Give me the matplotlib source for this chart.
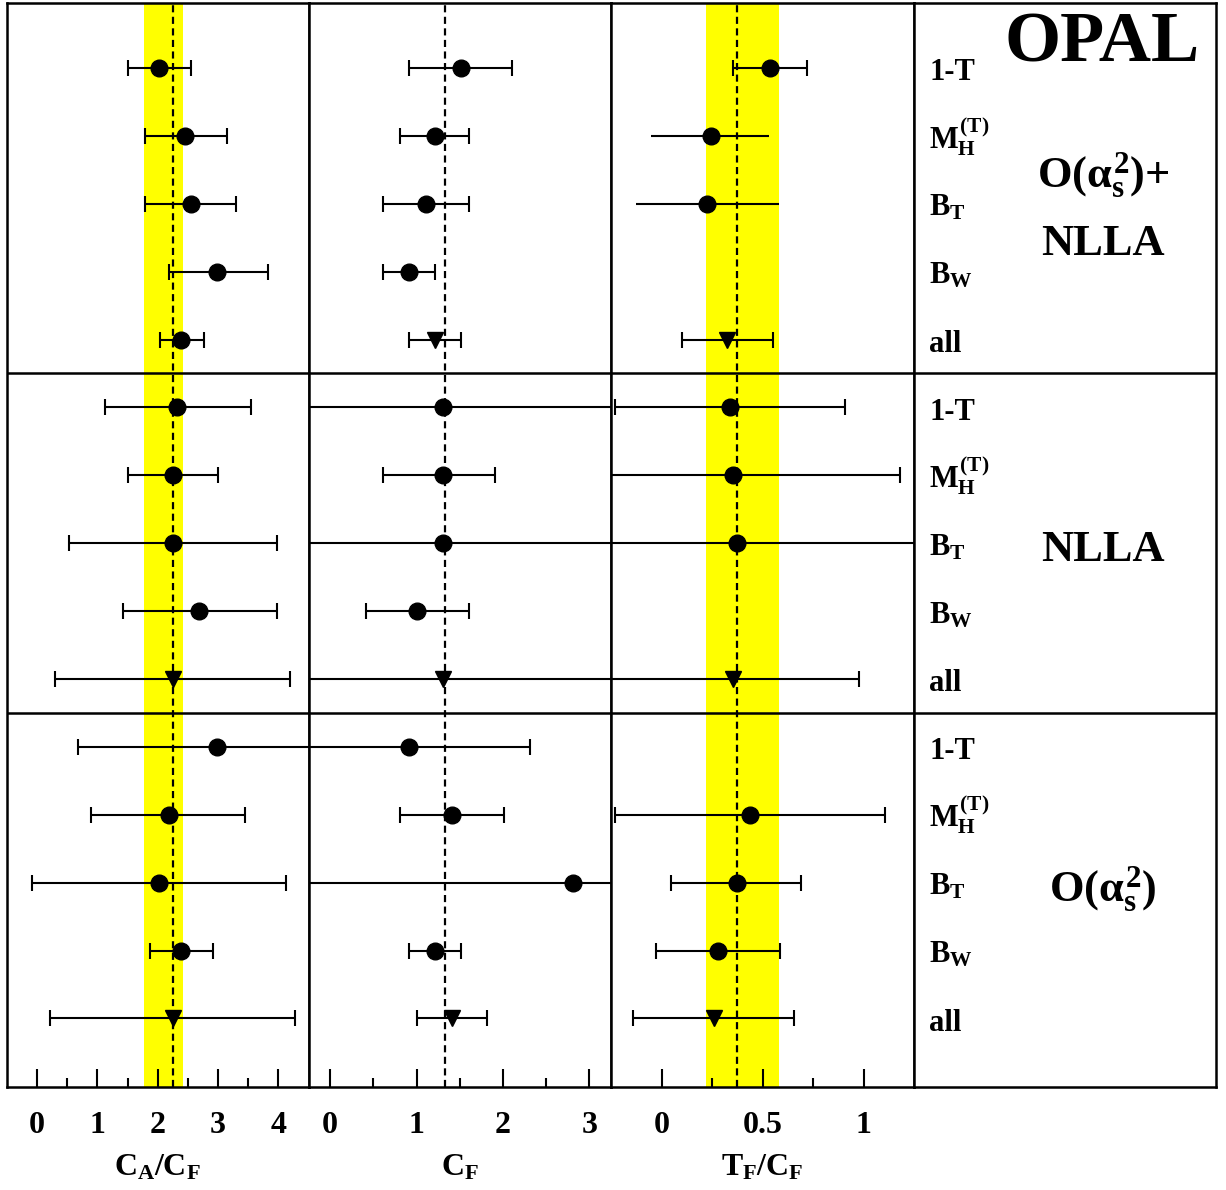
import numpy as np
import matplotlib.pyplot as plt

plt.rcParams["font.family"] = ["Liberation Serif", "DejaVu Serif"]
plt.rcParams["font.weight"] = "bold"
plt.rcParams["mathtext.fontset"] = "custom"
plt.rcParams["mathtext.rm"] = "Liberation Serif:bold"
plt.rcParams["mathtext.it"] = "Liberation Serif:bold"
plt.rcParams["mathtext.bf"] = "Liberation Serif:bold"

# observables (repeated for the 3 theory groups)
ROW_LABELS = ["1-T", r"$M_H^{(T)}$", r"$B_T$", r"$B_W$", "all"]
GROUP_LABELS = [r"O($\alpha_s^2$)+", "NLLA", "NLLA", r"O($\alpha_s^2$)"]
GROUP_Y = [1.76, 2.76, 7.26, 12.27]

# marker per row: o = single observable, v = combined
MARKERS = ["o", "o", "o", "o", "v"] * 3

# C_A/C_F
CA_VAL = [2.02, 2.46, 2.55, 2.99, 2.39, 2.32, 2.25, 2.25, 2.69, 2.25, 2.99, 2.18, 2.02, 2.39, 2.25]
CA_LO = [1.50, 1.79, 1.79, 2.18, 2.03, 1.12, 1.50, 0.52, 1.42, 0.29, 0.67, 0.89, -0.09, 1.87, 0.22]
CA_HI = [2.55, 3.15, 3.30, 3.83, 2.77, 3.54, 3.00, 3.98, 3.98, 4.20, 5.00, 3.45, 4.13, 2.92, 4.28]

# C_F
CF_VAL = [1.51, 1.21, 1.11, 0.91, 1.21, 1.31, 1.31, 1.31, 1.01, 1.31, 0.91, 1.41, 2.81, 1.21, 1.41]
CF_LO = [0.91, 0.81, 0.61, 0.61, 0.91, -0.60, 0.61, -0.60, 0.41, -0.60, -0.60, 0.81, -0.60, 0.91, 1.01]
CF_HI = [2.11, 1.61, 1.61, 1.21, 1.51, 3.60, 1.91, 3.60, 1.61, 3.60, 2.31, 2.01, 3.60, 1.51, 1.81]

# T_F/C_F  (None = no result)
TF_VAL = [0.535, 0.244, 0.227, None, 0.325, 0.34, 0.353, 0.376, None, 0.353, None, 0.436, 0.373, 0.28, 0.259]
TF_LO = [0.356, -0.05, -0.126, None, 0.10, -0.23, -0.40, -0.40, None, -0.40, None, -0.23, 0.048, -0.028, -0.141]
TF_HI = [0.718, 0.534, 0.58, None, 0.552, 0.91, 1.18, 1.40, None, 0.98, None, 1.106, 0.693, 0.589, 0.655]
TF_NOCAP = [1, 2]

# QCD expectation and combined band
QCD = [2.25, 4.0 / 3.0, 0.375]
BAND = [(1.78, 2.42), None, (0.22, 0.584)]

COLUMNS = [
    dict(val=CA_VAL, lo=CA_LO, hi=CA_HI, xlim=(-0.5, 4.5), major=[0, 1, 2, 3, 4],
         minor=[0.5, 1.5, 2.5, 3.5], ticklabels=["0", "1", "2", "3", "4"],
         xlabel=r"$C_A/C_F$", nocap=[]),
    dict(val=CF_VAL, lo=CF_LO, hi=CF_HI, xlim=(-0.25, 3.25), major=[0, 1, 2, 3],
         minor=[0.5, 1.5, 2.5], ticklabels=["0", "1", "2", "3"],
         xlabel=r"$C_F$", nocap=[]),
    dict(val=TF_VAL, lo=TF_LO, hi=TF_HI, xlim=(-0.25, 1.25), major=[0, 0.5, 1],
         minor=[0.25, 0.75], ticklabels=["0", "0.5", "1"],
         xlabel=r"$T_F/C_F$", nocap=TF_NOCAP),
]

YLIM = (15.01, -0.957)
LEFTS = [7, 308.5, 611, 914, 1216]
W, H = 1226, 1190
bottom = 1 - 1087 / H
height = (1087 - 3) / H

fig = plt.figure(figsize=(W / 100, H / 100), dpi=100)

for k, col in enumerate(COLUMNS):
    ax = fig.add_axes([LEFTS[k] / W, bottom, (LEFTS[k + 1] - LEFTS[k]) / W, height])
    ax.set_xlim(*col["xlim"])
    ax.set_ylim(*YLIM)
    if BAND[k] is not None:
        ax.axvspan(BAND[k][0], BAND[k][1], color="#ffff00", lw=0, zorder=0)
    ax.axvline(QCD[k], color="k", lw=1.6, ls=(0, (3.2, 2.0)), zorder=1)
    for yy in (4.5, 9.5):
        ax.axhline(yy, color="k", lw=1.8, zorder=4)

    for i in range(15):
        v = col["val"][i]
        if v is None:
            continue
        lo, hi = col["lo"][i], col["hi"][i]
        marker = MARKERS[i]
        if k == 0 and i == 4:
            marker = "o"
        cap = 0 if i in col["nocap"] else 6
        ax.errorbar([v], [i], xerr=[[v - lo], [hi - v]], fmt=marker, ms=12,
                    color="k", ecolor="k", elinewidth=1.5, capsize=cap,
                    capthick=1.5, zorder=3)

    ax.set_xticks(col["major"])
    ax.set_xticklabels(col["ticklabels"])
    ax.set_xticks(col["minor"], minor=True)
    ax.set_yticks([])
    ax.tick_params(axis="x", which="major", direction="in", length=13, width=1.5,
                   labelsize=23, pad=17)
    ax.tick_params(axis="x", which="minor", direction="in", length=6.5, width=1.5)
    ax.set_xlabel(col["xlabel"], fontsize=23, labelpad=10)
    for s in ax.spines.values():
        s.set_linewidth(1.8)

# label column
axl = fig.add_axes([LEFTS[3] / W, bottom, (LEFTS[4] - LEFTS[3]) / W, height])
axl.set_xlim(0, 1)
axl.set_ylim(*YLIM)
axl.set_xticks([])
axl.set_yticks([])
for s in axl.spines.values():
    s.set_linewidth(1.8)
for yy in (4.5, 9.5):
    axl.axhline(yy, color="k", lw=1.8)

for i in range(15):
    axl.text(0.05, i + 0.18, ROW_LABELS[i % 5], fontsize=22, fontweight="bold",
             ha="left", va="baseline")

axl.text(0.623, -0.09, "OPAL", fontsize=52, fontweight="bold", ha="center", va="baseline")
for lab, gy in zip(GROUP_LABELS, GROUP_Y):
    axl.text(0.625, gy, lab, fontsize=32, fontweight="bold", ha="center", va="baseline")

fig.savefig("out.png", dpi=100)
